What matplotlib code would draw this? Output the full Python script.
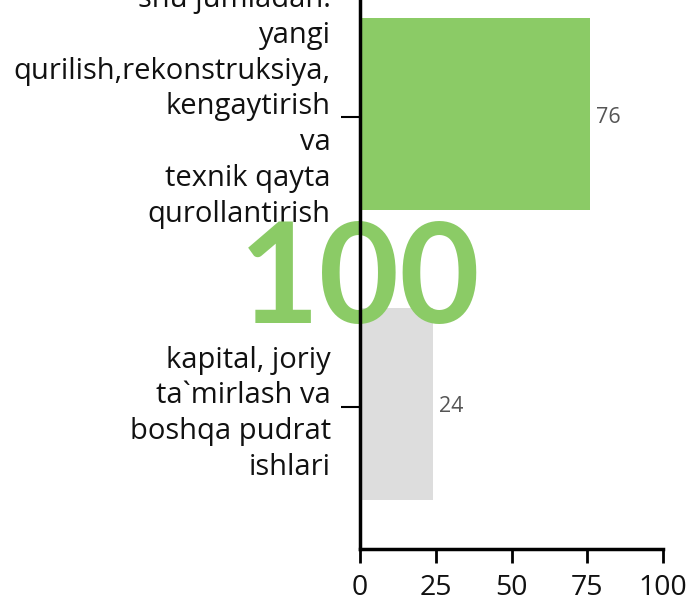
import matplotlib
matplotlib.use("Agg")
import matplotlib.pyplot as plt
from matplotlib.transforms import ScaledTranslation

categories = [
    "kapital, joriy\nta`mirlash va\nboshqa pudrat\nishlari",
    "shu jumladan:\nyangi\nqurilish,rekonstruksiya,\nkengaytirish\nva\ntexnik qayta\nqurollantirish",
]
values = [24, 76]
bar_colors = ["#dddddd", "#8bcb66"]
xticks = [0, 25, 50, 75, 100]
total_label = "100"

LABEL_FONT = ["Open Sans", "DejaVu Sans"]

fig = plt.figure(figsize=(6.88, 5.96), dpi=100)
ax = fig.add_axes([360/688, 47/596, 303/688, 574/596])

ypos = list(range(len(categories)))
bars = ax.barh(ypos, values, height=0.662, color=bar_colors, zorder=1)
# bars sit ~3px above their ticks in the reference
bar_shift = ax.transData + ScaledTranslation(0, 3/100, fig.dpi_scale_trans)
for b in bars:
    b.set_transform(bar_shift)
ax.set_xlim(0, 100)
ax.set_ylim(-0.49, 1.49)

ax.set_yticks(ypos)
ax.set_yticklabels(categories, family=LABEL_FONT, fontsize=21, color="#111111",
                   linespacing=1.31)
ax.set_xticks(xticks)
ax.set_xticklabels([str(t) for t in xticks], family=LABEL_FONT, fontsize=20.5, color="#111111")

ax.tick_params(axis="y", length=14, width=1.5, pad=7, color="black")
ax.tick_params(axis="x", length=10, width=2, pad=8, color="black")

top_lbl = ax.get_yticklabels()[1]
top_lbl.set_transform(top_lbl.get_transform() + ScaledTranslation(0, 17/100, fig.dpi_scale_trans))

for s in ["top", "right"]:
    ax.spines[s].set_visible(False)
for s in ["left", "bottom"]:
    ax.spines[s].set_linewidth(2.5)
    ax.spines[s].set_color("black")
    ax.spines[s].set_zorder(3)

for y, v in zip(ypos, values):
    ax.text(v + 2, y, str(v), va="center", ha="left",
            family=LABEL_FONT, fontsize=15.5, color="#555555")

ax.text(0, 0.5 - 21/290, total_label, transform=ax.transData,
        ha="center", va="center", family=["Lato", "DejaVu Sans"], fontweight="bold",
        fontsize=100, color="#8bcb66", zorder=2, clip_on=False)

fig.savefig("out.png", dpi=100)
